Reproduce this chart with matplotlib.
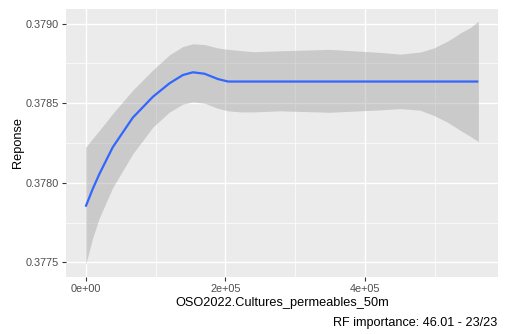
import matplotlib
matplotlib.use("Agg")
import matplotlib.pyplot as plt
from matplotlib.ticker import FixedLocator

plt.rcParams['font.family'] = ['Liberation Sans', 'DejaVu Sans']

# Partial-dependence smooth: fitted response and confidence band
x_vals = [0, 10000, 19600, 38700, 67400, 96100, 120000, 139100, 153400,
          170000, 189000, 203600, 222000, 240000, 277600, 349200, 420900,
          449800, 478200, 497500, 516700, 526000, 535800, 550100, 561600]
fit = [0.377850, 0.377960, 0.378055, 0.378223, 0.378409, 0.378540, 0.378625,
       0.378677, 0.378694, 0.378685, 0.378652, 0.378636, 0.378636, 0.378636,
       0.378636, 0.378636, 0.378636, 0.378636, 0.378636, 0.378636, 0.378636,
       0.378636, 0.378636, 0.378636, 0.378636]
upper = [0.378223, 0.378278, 0.378329, 0.378435, 0.378582, 0.378709, 0.378804,
         0.378856, 0.378873, 0.378868, 0.378847, 0.378838, 0.378830, 0.378823,
         0.378829, 0.378838, 0.378819, 0.378808, 0.378821, 0.378846, 0.378888,
         0.378912, 0.378941, 0.378975, 0.379015]
lower = [0.377485, 0.377654, 0.377780, 0.377970, 0.378182, 0.378350, 0.378445,
         0.378494, 0.378508, 0.378500, 0.378468, 0.378452, 0.378445, 0.378445,
         0.378452, 0.378443, 0.378458, 0.378466, 0.378456, 0.378424, 0.378382,
         0.378357, 0.378329, 0.378292, 0.378259]

x_ticks = [0, 200000, 400000]
x_tick_labels = ["0e+00", "2e+05", "4e+05"]
y_ticks = [0.3775, 0.3780, 0.3785, 0.3790]
y_tick_labels = ["0.3775", "0.3780", "0.3785", "0.3790"]
x_minor = [100000, 300000, 500000]
y_minor = [0.37775, 0.37825, 0.37875]

fig = plt.figure(figsize=(5.08, 3.34), dpi=100)
ax = fig.add_axes([66/508, 1 - 277/334, 432/508, 268/334])
ax.set_facecolor('#EBEBEB')

ax.fill_between(x_vals, lower, upper, color='#999999', alpha=0.4, linewidth=0, zorder=2)
ax.plot(x_vals, fit, color='#3366FF', linewidth=1.6, zorder=3,
        solid_capstyle='butt', solid_joinstyle='round')

# expanded limits (5% on each side)
xmin, xmax = min(x_vals), max(x_vals)
dx = 0.05 * (xmax - xmin)
ax.set_xlim(xmin - dx, xmax + dx)
ymin, ymax = min(lower), max(upper)
dy = 0.05 * (ymax - ymin)
ax.set_ylim(ymin - dy, ymax + dy)

ax.set_xticks(x_ticks)
ax.set_xticklabels(x_tick_labels)
ax.set_yticks(y_ticks)
ax.set_yticklabels(y_tick_labels)
ax.xaxis.set_minor_locator(FixedLocator(x_minor))
ax.yaxis.set_minor_locator(FixedLocator(y_minor))

ax.grid(which='major', color='white', linewidth=1.0, zorder=0)
ax.grid(which='minor', color='white', linewidth=0.5, zorder=0)
ax.set_axisbelow(True)
for s in ax.spines.values():
    s.set_visible(False)

ax.tick_params(which='major', length=3, width=0.8, color='#333333',
               labelcolor='#4D4D4D', labelsize=7.8, pad=2)
ax.tick_params(which='minor', length=0)

ax.set_xlabel("OSO2022.Cultures_permeables_50m", fontsize=9.2, color='black', labelpad=2)
ax.set_ylabel("Reponse", fontsize=9.2, color='black', labelpad=1)

fig.text(497/508, 1 - 323/334, "RF importance: 46.01 - 23/23", ha='right', va='center',
         fontsize=9.1, color='black')

fig.savefig("out.png", dpi=100)
